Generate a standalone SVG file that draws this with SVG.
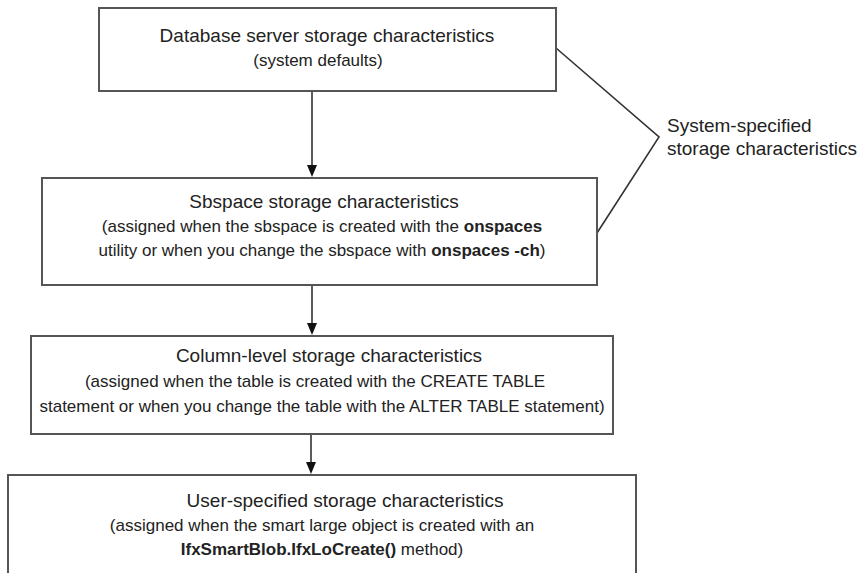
<svg xmlns="http://www.w3.org/2000/svg" width="861" height="573" viewBox="0 0 861 573">
<style>
.box{fill:#fff;stroke:#555;stroke-width:2}
.t{font-family:"Liberation Sans",Arial,sans-serif;fill:#222;text-anchor:middle}
.h{font-size:19px}
.s{font-size:17px}
.b{font-weight:bold}
.lbl{font-family:"Liberation Sans",Arial,sans-serif;fill:#222;font-size:19px}
.conn{stroke:#333;stroke-width:1.6;fill:none}
.arrow{marker-end:url(#arr)}
</style>
<defs>
<marker id="arr" viewBox="0 0 10 12" refX="5" refY="11" markerWidth="10" markerHeight="12" markerUnits="userSpaceOnUse" orient="auto">
<path d="M0,0 L10,0 L5,12 Z" fill="#111" transform="rotate(-90 5 6)"/>
</marker>
</defs>
<rect width="861" height="573" fill="#fff"/>
<g id="connectors">
<path class="conn" d="M312,91 V166"/>
<path d="M307,165 L317,165 L312,177 Z" fill="#111"/>
<path class="conn" d="M312,285 V324"/>
<path d="M307,323 L317,323 L312,335 Z" fill="#111"/>
<path class="conn" d="M311,434 V463"/>
<path d="M306,462 L316,462 L311,474 Z" fill="#111"/>
<polyline class="conn" points="556,48 659,137 597,233"/>
</g>
<g id="node-db">
<rect class="box" x="99" y="8" width="457" height="83"/>
<text class="t h" x="327" y="42">Database server storage characteristics</text>
<text class="t s" x="318" y="66">(system defaults)</text>
</g>
<g id="node-sbspace">
<rect class="box" x="42" y="178" width="555" height="107"/>
<text class="t h" x="324" y="208">Sbspace storage characteristics</text>
<text class="t s" x="322" y="232">(assigned when the sbspace is created with the <tspan class="b">onspaces</tspan></text>
<text class="t s" x="322" y="256">utility or when you change the sbspace with <tspan class="b">onspaces -ch</tspan>)</text>
</g>
<g id="node-column">
<rect class="box" x="31" y="336" width="582" height="98"/>
<text class="t h" x="329" y="362">Column-level storage characteristics</text>
<text class="t s" x="315" y="387">(assigned when the table is created with the CREATE TABLE</text>
<text class="t s" x="322" y="412">statement or when you change the table with the ALTER TABLE statement)</text>
</g>
<g id="node-user">
<rect class="box" x="8" y="475" width="628" height="110"/>
<text class="t h" x="345" y="507">User-specified storage characteristics</text>
<text class="t s" x="322" y="531">(assigned when the smart large object is created with an</text>
<text class="t s" x="322" y="555"><tspan class="b">IfxSmartBlob.IfxLoCreate()</tspan> method)</text>
</g>
<g id="label-system">
<text class="lbl" x="667" y="132">System-specified</text>
<text class="lbl" x="667" y="155">storage characteristics</text>
</g>
</svg>
